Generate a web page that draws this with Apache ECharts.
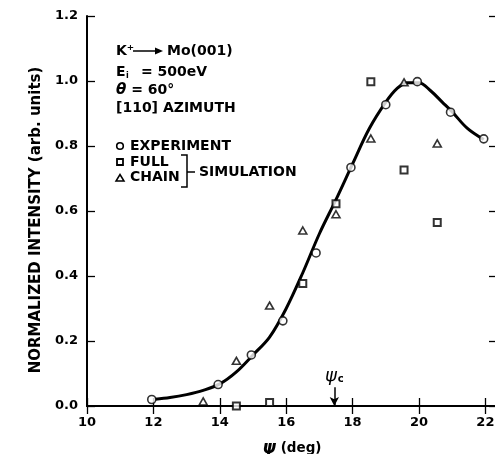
<!DOCTYPE html>
<html>
<head>
<meta charset="utf-8">
<script src="https://cdn.jsdelivr.net/npm/echarts@6/dist/echarts.min.js"></script>
<style>html,body{margin:0;padding:0;background:#fff}#c{width:495px;height:454px}</style>
</head>
<body>
<div id="c"></div>
<script>
// Experiment (circles)
const expX = [11.95, 13.95, 14.95, 15.9, 16.9, 17.95, 19.0, 19.95, 20.95, 21.95];
const expY = [0.020, 0.066, 0.157, 0.262, 0.471, 0.734, 0.927, 0.998, 0.904, 0.822];
// Full simulation (squares)
const fullX = [14.5, 15.5, 16.5, 17.5, 18.55, 19.55, 20.55];
const fullY = [0.0, 0.011, 0.377, 0.622, 0.998, 0.726, 0.565];
// Chain simulation (triangles)
const chainX = [13.5, 14.5, 15.5, 16.5, 17.5, 18.55, 19.55, 20.55];
const chainY = [0.014, 0.139, 0.309, 0.540, 0.590, 0.823, 0.996, 0.808];
// Fitted curve through the experiment
const fitX = [12.05, 12.5, 13.0, 13.5, 14.0, 14.5, 15.0, 15.5, 16.0, 16.5, 17.0, 17.5, 18.0, 18.5, 19.0, 19.35, 19.65, 20.0, 20.35, 20.7, 21.0, 21.45, 21.95];
const fitY = [0.021, 0.026, 0.035, 0.048, 0.068, 0.105, 0.157, 0.212, 0.300, 0.410, 0.530, 0.635, 0.745, 0.853, 0.935, 0.978, 0.995, 0.995, 0.970, 0.935, 0.905, 0.855, 0.820];
// Critical angle marker
const psiC = 17.45;
const psiCTop = 0.058;
// Axis ticks
const xMin = 10, xMax = 22.35, xStep = 2;
const yMin = 0, yMax = 1.2, yStep = 0.2;

const F = 'DejaVu Sans';
const zip = (a, b) => a.map((v, i) => [v, b[i]]);

const chart = echarts.init(document.getElementById('c'), null, {renderer: 'canvas'});
const axisLine = {show: true, lineStyle: {color: '#000', width: 2}};
const tick = {show: true, inside: true, length: 8, lineStyle: {color: '#000', width: 1.3}};
const xFmt = v => (Math.abs(v - Math.round(v)) < 1e-6 && Math.round(v) % 2 === 0) ? String(Math.round(v)) : '';

const txt = (x, y, text, extra) => Object.assign({
  type: 'text', x: x, y: y,
  style: Object.assign({text: text, fill: '#000', font: 'bold 14px "' + F + '"', verticalAlign: 'middle', align: 'left'}, extra || {})
});

chart.setOption({
  animation: false,
  backgroundColor: '#fff',
  grid: {left: 87, top: 16, width: 410, height: 390, containLabel: false, outerBoundsMode: 'none'},
  xAxis: [
    {type: 'value', position: 'bottom', min: xMin, max: xMax, interval: xStep,
     axisLine: axisLine, axisTick: tick, splitLine: {show: false},
     axisLabel: {formatter: xFmt, color: '#000', fontFamily: F, fontWeight: 'bold', fontSize: 13, margin: 10, showMaxLabel: false},
     name: '{i|ψ} (deg)', nameLocation: 'middle', nameGap: 34,
     nameTextStyle: {color: '#000', fontFamily: F, fontWeight: 'bold', fontSize: 13.5,
       rich: {i: {fontFamily: F, fontStyle: 'italic', fontSize: 17, color: '#000'}}}},
    {type: 'value', position: 'top', min: xMin, max: xMax, interval: xStep,
     axisLine: axisLine, axisTick: tick, axisLabel: {show: false}, splitLine: {show: false}}
  ],
  yAxis: [
    {type: 'value', position: 'left', min: yMin, max: yMax, interval: yStep,
     axisLine: axisLine, axisTick: tick, splitLine: {show: false},
     axisLabel: {formatter: v => v.toFixed(1), color: '#000', fontFamily: F, fontWeight: 'bold', fontSize: 13, margin: 9},
     name: 'NORMALIZED INTENSITY (arb. units)', nameLocation: 'middle', nameRotate: 90, nameGap: 42,
     nameTextStyle: {color: '#000', fontFamily: F, fontWeight: 'bold', fontSize: 15, padding: [0, 18, 0, 0]}},
    {type: 'value', position: 'right', min: yMin, max: yMax, interval: yStep,
     axisLine: axisLine, axisTick: tick, axisLabel: {show: false}, splitLine: {show: false}}
  ],
  series: [
    {type: 'line', data: zip(fitX, fitY), smooth: 0.35, symbol: 'none', z: 2,
     lineStyle: {color: '#000', width: 3},
     markLine: {silent: true, symbol: ['none', 'arrow'], symbolSize: [7, 9], z: 3,
       lineStyle: {color: '#000', width: 1.5, type: 'solid'},
       label: {show: true, position: 'start', distance: 2,
         formatter: '{p|ψ}{c|c}',
         rich: {p: {fontFamily: F, fontStyle: 'italic', fontSize: 18, color: '#000'},
                c: {fontFamily: F, fontWeight: 'bold', fontSize: 10, color: '#000', padding: [6, 0, 0, 1]}}},
       data: [[{coord: [psiC, psiCTop]}, {coord: [psiC, 0]}]]}},
    {type: 'scatter', data: zip(expX, expY), symbol: 'circle', symbolSize: 8, z: 4, clip: false,
     itemStyle: {color: '#fff', borderColor: '#000', borderWidth: 1.6}},
    {type: 'scatter', data: zip(fullX, fullY), symbol: 'rect', symbolSize: 7, z: 4, clip: false,
     itemStyle: {color: '#fff', borderColor: '#000', borderWidth: 2}},
    {type: 'scatter', data: zip(chainX, chainY), symbol: 'triangle', symbolSize: [8, 7], z: 4, clip: false,
     itemStyle: {color: '#fff', borderColor: '#000', borderWidth: 1.6}}
  ],
  graphic: [
    txt(116, 51, 'K⁺'),
    {type: 'line', shape: {x1: 133, y1: 51, x2: 156, y2: 51}, style: {stroke: '#000', lineWidth: 1.5}},
    {type: 'polygon', shape: {points: [[155, 47.5], [163, 51], [155, 54.5]]}, style: {fill: '#000'}},
    txt(167, 51, 'Mo(001)'),
    txt(116, 72, 'E'),
    txt(126, 76, 'i', {font: 'bold 8px "' + F + '"'}),
    txt(141, 72, '= 500eV'),
    txt(116, 90, '{t|θ} = 60°', {rich: {t: {fontFamily: F, fontStyle: 'italic', fontWeight: 'bold', fontSize: 15, fill: '#000'}}}),
    txt(116, 108, '[110] AZIMUTH'),
    {type: 'circle', shape: {cx: 120, cy: 146, r: 3.3}, style: {fill: '#fff', stroke: '#000', lineWidth: 1.6}},
    txt(130, 146, 'EXPERIMENT'),
    {type: 'rect', shape: {x: 117, y: 159, width: 6, height: 6}, style: {fill: '#fff', stroke: '#000', lineWidth: 1.8}},
    txt(130, 162, 'FULL'),
    {type: 'polygon', shape: {points: [[120, 174.5], [124, 181], [116, 181]]}, style: {fill: '#fff', stroke: '#000', lineWidth: 1.5}},
    txt(130, 177, 'CHAIN'),
    {type: 'polyline', shape: {points: [[181, 155], [187, 155], [187, 187], [181, 187]]}, style: {stroke: '#000', lineWidth: 1.5, fill: null}},
    {type: 'line', shape: {x1: 187, y1: 172, x2: 195, y2: 172}, style: {stroke: '#000', lineWidth: 1.5}},
    txt(199, 172, 'SIMULATION')
  ]
});
</script>
</body>
</html>
